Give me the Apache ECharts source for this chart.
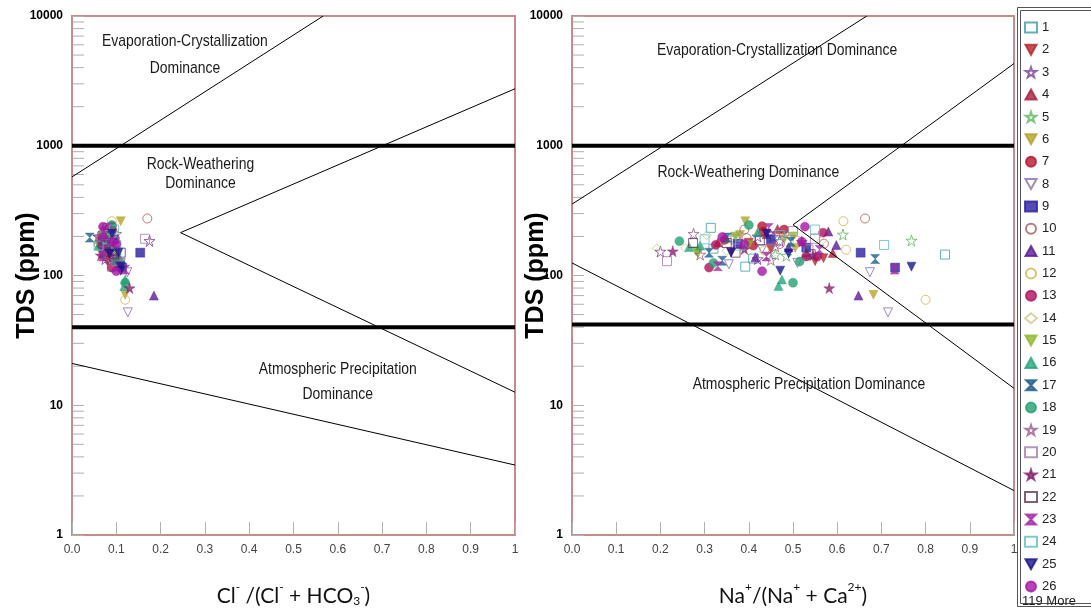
<!DOCTYPE html>
<html>
<head>
<meta charset="utf-8">
<script src="https://cdn.jsdelivr.net/npm/echarts@6/dist/echarts.min.js"></script>
<style>html,body{margin:0;padding:0;background:#fff}#c{width:1091px;height:612px}</style>
</head>
<body>
<div id="c"></div>
<script>
// ---- Data (one entry per sample; style = sample index mod 26) ----
const tds = [145,160,185,150,186,71,226,106,115,275, 70,65,115,162,172,93,196,184,210,192,
  80,150,140,172,117,238,233,136,200,149, 207,262,219,52,150,226,172,262,214,163,
  154,83,134,88,145,129,154,178,111,226, 109,108,117,129,153,180,195,205,170,160,
  190,175,165,185,140,155,200,215,130,125, 168,220,182,146,158,190,210,175,135,152,
  200,228,142,163,188,122,176,194,138,156, 172,204,148,166,182,128,214,159,143,186,
  232,170,150,198,161,179,134,208,145,190, 240,125,164,176,218,158,140,185,200,170,
  150,245,132,190,160,178,118,205,148,182];
const clRatio = [0.10,0.08,0.175,0.09,0.09,0.12,0.08,0.125,0.113,0.17, 0.185,0.12,0.09,0.07,0.06,0.12,0.04,0.08,0.10,0.165,
  0.13,0.11,0.07,0.10,0.11,0.07,0.08,0.09,0.06,0.08, 0.07,0.11,0.09,0.126,0.154,0.085,0.075,0.09,0.08,0.09,
  0.10,0.118,0.10,0.12,0.08,0.10,0.085,0.07,0.12,0.095, 0.11,0.10,0.09,0.08,0.07,0.065,0.075,0.08,0.085,0.09,
  0.095,0.06,0.07,0.08,0.09,0.10,0.07,0.08,0.10,0.11, 0.085,0.075,0.065,0.095,0.07,0.08,0.09,0.10,0.085,0.075,
  0.06,0.07,0.09,0.08,0.075,0.10,0.085,0.065,0.095,0.07, 0.08,0.09,0.075,0.085,0.07,0.10,0.08,0.09,0.065,0.075,
  0.085,0.06,0.105,0.07,0.08,0.09,0.075,0.065,0.095,0.08, 0.09,0.11,0.085,0.07,0.075,0.08,0.09,0.10,0.085,0.06,
  0.07,0.09,0.10,0.065,0.075,0.08,0.105,0.075,0.085,0.09];
const naRatio = [0.844,0.45,0.47,0.53,0.768,0.682,0.48,0.674,0.731,0.663, 0.648,0.80,0.31,0.192,0.40,0.475,0.35,0.243,0.275,0.55,
  0.582,0.37,0.44,0.706,0.768,0.527,0.314,0.569,0.42,0.59, 0.613,0.392,0.433,0.715,0.653,0.39,0.598,0.614,0.568,0.256,
  0.281,0.467,0.686,0.50,0.29,0.215,0.228,0.274,0.73,0.55, 0.471,0.43,0.392,0.55,0.20,0.33,0.36,0.38,0.41,0.43,
  0.45,0.47,0.49,0.51,0.53,0.35,0.37,0.42,0.34,0.32, 0.46,0.50,0.52,0.54,0.56,0.30,0.44,0.39,0.41,0.36,
  0.455,0.465,0.485,0.505,0.345,0.355,0.375,0.395,0.415,0.435, 0.325,0.305,0.285,0.265,0.495,0.515,0.475,0.535,0.545,0.425,
  0.445,0.38,0.36,0.34,0.32,0.40,0.42,0.44,0.46,0.48, 0.43,0.51,0.53,0.57,0.58,0.62,0.555,0.565,0.50,0.29,
  0.31,0.40,0.45,0.37,0.39,0.35,0.33,0.47,0.49,0.52];
const legendNames = ['1','2','3','4','5','6','7','8','9','10','11','12','13','14','15','16','17','18','19','20','21','22','23','24','25','26'];
const hiddenCount = '119 More';
// Gibbs boundary lines [x, TDS]
const leftUpper = [[0, 575], [0.567, 10000]];
const leftWedgeUp = [[0.245, 214], [1, 2750]];
const leftWedgeDown = [[0.245, 214], [1, 12.6]];
const leftLower = [[0, 21], [1, 3.46]];
const leftThick = [1000, 40];
const rightUpper = [[0, 355], [0.667, 10000]];
const rightWedgeUp = [[0.5, 246], [1, 4300]];
const rightWedgeDown = [[0.5, 246], [1, 13.5]];
const rightLower = [[0, 125], [1, 2.2]];
const rightThick = [1000, 42];
const decades = [1, 10, 100, 1000];
const minorMult = [2, 3, 4, 5, 6, 7, 8, 9];
const xTicks = ['0.0','0.1','0.2','0.3','0.4','0.5','0.6','0.7','0.8','0.9','1'];
// region annotations: [grid, x, TDS, text, lineHeight]
const notes = [
  [0, 0.255, 5000, 'Evaporation-Crystallization\nDominance', 27],
  [0, 0.29, 605, 'Rock-Weathering\nDominance', 19],
  [0, 0.60, 15.2, 'Atmospheric Precipitation\nDominance', 25],
  [1, 0.464, 5450, 'Evaporation-Crystallization Dominance', 18],
  [1, 0.399, 625, 'Rock-Weathering Dominance', 18],
  [1, 0.536, 14.5, 'Atmospheric Precipitation Dominance', 18]
];

// ---- Styles ----
const STAR = 'path://M50,0 L61,35 L98,35 L68,57 L79,91 L50,70 L21,91 L32,57 L2,35 L39,35 Z';
const HOUR = 'path://M0,0 L10,0 L5,5 L10,10 L0,10 L5,5 Z';
const DOWN = 'path://M0,0 L10,0 L5,9 Z';
const UP = 'path://M5,0 L10,9 L0,9 Z';
const styles = [
  ['rect','#3a9ea5',true],['down','#b3262a',false],['star','#7a3d9a',true],['up','#a8203a',false],
  ['star','#5cb85c',true],['down','#b5a22a',false],['circle','#b8142e',false],['down','#8a6bb8',true],
  ['rect','#2b1fa0',false],['circle','#a65a5a',true],['up','#5b1a9a',false],['circle','#d4b44a',true],
  ['circle','#b0105e',false],['diamond','#cfca8a',true],['down','#8db82a',false],['up','#23a67a',false],
  ['hour','#1f5f8f',false],['circle','#23a070',false],['star','#9a5a8a',true],['rect','#a87aa8',true],
  ['star','#8a1f6e',false],['rect','#5a3a5a',true],['hour','#a42aa4',false],['rect','#5ec0c0',true],
  ['down','#15158f',false],['circle','#a514a5',false]
];
function sym(s){ return {star: STAR, hour: HOUR, down: DOWN, up: UP}[s] || s; }
const FONT = "'Liberation Sans',Arial,sans-serif";

const series = [];
styles.forEach((st, k) => {
  const left = [], right = [];
  for (let i = k; i < tds.length; i += 26) {
    left.push([clRatio[i], tds[i]]);
    right.push([naRatio[i], tds[i]]);
  }
  const base = {
    type: 'scatter', name: legendNames[k], symbol: sym(st[0]),
    symbolSize: st[0]==='star' ? 11 : 9,
    itemStyle: st[2] ? {color: 'rgba(255,255,255,0)', borderColor: st[1], borderWidth: 1} : {color: st[1], borderColor: st[1], borderWidth: 0.5},
    z: 3
  };
  series.push(Object.assign({}, base, {xAxisIndex: 0, yAxisIndex: 0, data: left}));
  series.push(Object.assign({}, base, {xAxisIndex: 1, yAxisIndex: 1, data: right}));
});

function line(data, g, w) {
  return {type: 'line', xAxisIndex: g, yAxisIndex: g, data: data, showSymbol: false, symbol: 'none', silent: true,
    lineStyle: {color: '#000', width: w}, z: w > 1 ? 5 : 4, animation: false};
}
series.push(line(leftUpper, 0, 1), line(leftWedgeUp, 0, 1), line(leftWedgeDown, 0, 1), line(leftLower, 0, 1));
leftThick.forEach(v => series.push(line([[0, v], [1, v]], 0, 4)));
series.push(line(rightUpper, 1, 1), line(rightWedgeUp, 1, 1), line(rightWedgeDown, 1, 1), line(rightLower, 1, 1));
rightThick.forEach(v => series.push(line([[0, v], [1, v]], 1, 4)));

// minor log ticks
const minorVals = [];
decades.forEach(d => minorMult.forEach(m => minorVals.push([0, m * d])));
[0, 1].forEach(g => series.push({
  type: 'custom', xAxisIndex: g, yAxisIndex: g, silent: true, z: 2, data: minorVals,
  encode: {x: 0, y: 1},
  renderItem: function (params, api) {
    const p = api.coord([0, api.value(1)]);
    return {type: 'line', shape: {x1: p[0] + 1, y1: p[1], x2: p[0] + 12, y2: p[1]}, style: {stroke: '#b0b0b0', lineWidth: 1}};
  }
}));

const richName = {
  n: {fontSize: 21, fontFamily: "Lato,'Open Sans',sans-serif", color: '#111', lineHeight: 28, verticalAlign: 'bottom'},
  sup: {fontSize: 12, fontFamily: "Lato,sans-serif", color: '#111', lineHeight: 28, verticalAlign: 'top', padding: [2, 0, 0, 0]},
  sub: {fontSize: 12, fontFamily: "Lato,sans-serif", color: '#111', lineHeight: 28, verticalAlign: 'bottom', padding: [0, 0, 0, 0]}
};
function xAxis(g, name) {
  return {type: 'value', gridIndex: g, min: 0, max: 1, interval: 0.1,
    name: name, nameLocation: 'middle', nameGap: 44, nameTextStyle: {rich: richName}, nameMoveOverlap: false,
    axisLine: {show: false}, splitLine: {show: false},
    axisTick: {show: true, inside: true, length: 13, lineStyle: {color: '#b0b0b0'}},
    axisLabel: {margin: 9, fontSize: 12, color: '#444', fontFamily: FONT,
      formatter: v => xTicks[Math.round(v * 10)]}};
}
function yAxis(g, gap) {
  return {type: 'log', gridIndex: g, logBase: 10, min: 1, max: 10000,
    name: 'TDS (ppm)', nameLocation: 'middle', nameGap: gap, nameMoveOverlap: false,
    nameTextStyle: {fontSize: 25, fontWeight: 'bold', color: '#000', fontFamily: FONT},
    axisLine: {show: false}, splitLine: {show: false}, minorTick: {show: false},
    axisTick: {show: true, inside: true, length: 12, lineStyle: {color: '#b0b0b0'}},
    axisLabel: {margin: 9, fontSize: 12, fontWeight: 'bold', color: '#000', fontFamily: FONT,
      formatter: v => String(v)}};
}

const baseGraphic = [
  {id: 'box1', type: 'rect', shape: {x: 1017.5, y: 7.5, width: 90, height: 599}, style: {fill: 'none', stroke: '#555', lineWidth: 1}, z: 1},
  {id: 'box2', type: 'rect', shape: {x: 1020.5, y: 10.5, width: 90, height: 593}, style: {fill: 'none', stroke: '#555', lineWidth: 1}, z: 1},
  {id: 'more', type: 'text', x: 1022, y: 601, style: {text: hiddenCount, fontSize: 13, fill: '#222', textVerticalAlign: 'middle', fontFamily: FONT}, z: 2}
];

const chart = echarts.init(document.getElementById('c'), null, {renderer: 'canvas'});
chart.setOption({
  animation: false,
  backgroundColor: '#fff',
  grid: [
    {left: 72, right: 576, top: 16, bottom: 76, show: true, borderColor: '#c98a8a', borderWidth: 2, backgroundColor: '#fff'},
    {left: 572, right: 77, top: 16, bottom: 76, show: true, borderColor: '#c98a8a', borderWidth: 2, backgroundColor: '#fff'}
  ],
  xAxis: [
    xAxis(0, '{n|Cl}{sup|-}{n| /(Cl}{sup|-}{n| + HCO}{sub|3}{sup|-}{n|)}'),
    xAxis(1, '{n|Na}{sup|+}{n|/(Na}{sup|+}{n| + Ca}{sup|2+}{n|)}')
  ],
  yAxis: [yAxis(0, 32), yAxis(1, 23)],
  legend: {
    data: legendNames, orient: 'vertical', left: 1024, top: 21, height: 591, padding: 0,
    itemWidth: 12, itemHeight: 10, itemGap: 9.36, selectedMode: false,
    textStyle: {fontSize: 13, color: '#222', fontFamily: FONT, lineHeight: 12, height: 12}
  },
  graphic: baseGraphic,
  series: series
});

// region texts placed through the axes' own scales (condensed Arial look)
const noteGraphic = notes.map((n, i) => {
  const p = chart.convertToPixel({gridIndex: n[0]}, [n[1], n[2]]);
  return {id: 'note' + i, type: 'text', x: p[0], y: p[1], scaleX: 0.82, z: 6, silent: true,
    style: {text: n[3], fontSize: 17, fontFamily: FONT, fill: '#1a1a1a', textAlign: 'center', textVerticalAlign: 'middle', lineHeight: n[4]}};
});
chart.setOption({graphic: baseGraphic.concat(noteGraphic)});
</script>
</body>
</html>
